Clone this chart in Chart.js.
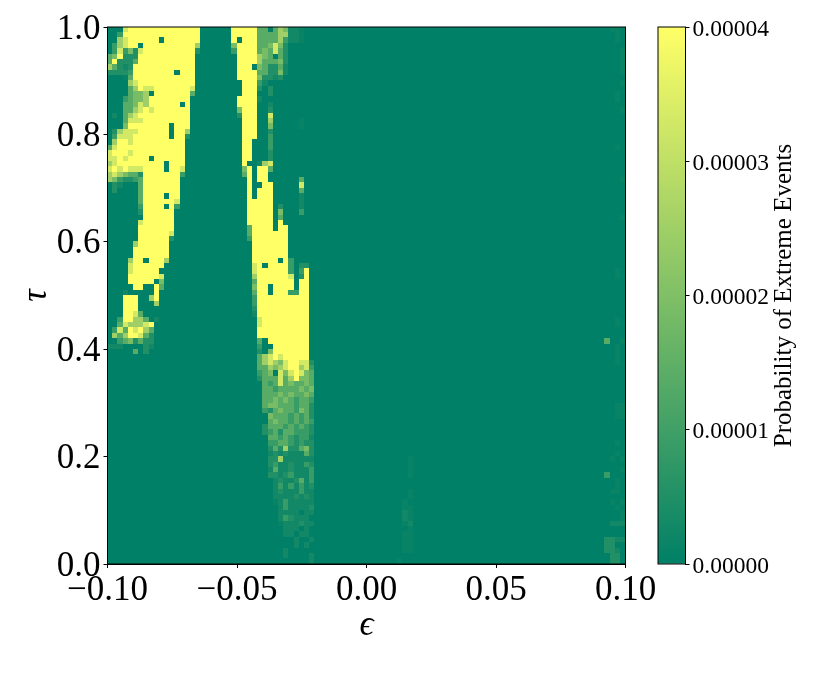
<!DOCTYPE html>
<html>
<head>
<meta charset="utf-8">
<title>Probability of Extreme Events</title>
<script src="https://cdn.jsdelivr.net/npm/chart.js@4"></script>
<style>
  html, body { margin: 0; padding: 0; background: #fff; }
  canvas { position: absolute; left: 0; top: 0; }
</style>
</head>
<body>
<canvas id="heat-chart" width="830" height="680"></canvas>
<canvas id="bar-chart" width="830" height="680"></canvas>
<script>
const epsTicks = [-0.1, -0.05, 0, 0.05, 0.1];
const tauTicks = [0, 0.2, 0.4, 0.6, 0.8, 1];
const barTicks = [0, 0.00001, 0.00002, 0.00003, 0.00004];
const barTitle = "Probability of Extreme Events";

// probability for each digit used in heatRows, in units of 1e-5
const levelValues = [0, 0.12, 0.28, 0.52, 0.88, 1.4, 1.9, 2.5, 3.3, 4];

// one string per row, top row first. "a-b=d" is a run of level d, "c:ddd" is literal levels from column c
const heatRows = [
  "3:8 4-17=9 24-28=9 29:550576221 97:1 98:1",
  "2:4 3:9 4-17=9 24-28=9 29:555577221 98:1",
  "2:7 3:8 4-17=9 10:0 24-28=9 25:0 29:555574221 98:1",
  "1:4 2:7 3:8 4-16=9 17:7 6:0 24:6 25-28=9 29:556863",
  "1:4 2:8 3:4 4:6 5:3 6:8 7-16=9 17:3 24:4 25-28=9 29:565853 99:1",
  "0:5 1:6 2:9 3:3 4:3 5:3 6-16=9 25-28=9 29:765053 99:1",
  "0:5 1:9 2:3 3:3 4:3 5:5 6-16=9 25-28=9 29:755563 99:1",
  "0:7 1:5 2:3 3:2 4:3 5-16=9 25-28=9 28:0 29:653352 99:1",
  "0:3 1:3 2:3 3:3 4:4 5-16=9 13:0 25-28=9 29:553362 99:1",
  "3:1 4:5 5-16=9 25-28=9 29:63323",
  "4:78 6-16=9 26-28=9 29:4 30:2 99:1",
  "4:5 5:7 6:9 7:88 9-15=9 16:8 26-28=9 29:3 31:3",
  "4:5 5:6 6:6 7:7 8:0 9-15=9 16:5 26-28=9 31:3 98:1",
  "3:4 4:5 5:6 6:6 7:7 8-15=9 25-28=9 29:2 98:1",
  "3:5 4:5 5:6 6:8 7:7 8-15=9 14:0 25-28=9 31:2",
  "3:5 4:5 5:7 6:8 7:9 8:8 9-15=9 25:6 26-28=9 31:3 99:1",
  "1:2 3:5 4:7 5:8 6-15=9 25:3 26-28=9 31:8",
  "3:5 4:8 5:8 6:8 7-15=9 26-28=9 31:7 37:1",
  "3:6 4-15=9 12:0 26-28=9 31:6 37:1",
  "1:3 2:7 3:8 4:8 5:8 6-14=9 12:0 15:7 26-28=9 31:3",
  "1:4 2:8 3:8 4:8 5-14=9 12:0 15:3 26-28=9 31:4",
  "1:7 2:9 3:9 4:8 5-14=9 26-27=9 31:4",
  "0:5 1:8 2-14=9 26-27=9 31:4 98:1",
  "0:8 1-14=9 4:8 26-27=9 31:3",
  "0:8 1:8 2:9 3:8 4-14=9 8:0 26-27=9 31:3",
  "0:7 1:8 2-14=9 11:0 26:9 29:2 30:7 31:8",
  "0:8 1:9 2:8 3:9 4:8 5:8 6:8 7-13=9 11:0 14:8 26:6 27:9 29-30=9 31:5",
  "0:7 1:8 2:7 3:6 4:5 5:5 6:3 7-13=9 14:4 26:5 27:9 29-30=9",
  "0:7 1:6 2:4 3:3 4:3 5:4 6:5 7-13=9 27:9 29-30=9 37:5 99:1",
  "1:3 2:2 6:5 7-13=9 27:9 30-31=9 37:8",
  "1:3 6:5 7-13=9 27:9 29-31=9 37:5",
  "6:5 7-13=9 11:0 27:9 29-31=9 37:2",
  "6:5 7-12=9 13:8 27-31=9 37:2",
  "6:4 7-12=9 11:0 13:4 27-31=9 33:3 37:2",
  "6:3 7-12=9 27-31=9 33:6 37:4",
  "7-12=9 27-31=9 33:5 99:1",
  "6:8 7-12=9 27-31=9 33:9",
  "6-12=9 27:5 28-31=9 33-34=9",
  "6-11=9 12:8 27:5 28-34=9",
  "6-11=9 12:3 27:4 28-34=9",
  "5:7 6-11=9 28-34=9",
  "5-11=9 28-34=9",
  "5-11=9 28-34=9",
  "4:7 5-10=9 7:0 11:7 28-34=9 33:0 35:4",
  "4:8 5-10=9 28:8 29-34=9 30:0 35:4 37:3 38:3",
  "4:8 5-9=9 28:8 29-34=9 35:4 37:4 38:9 98:1",
  "4-9=9 10:8 28:7 29-34=9 35:8 37:3 38:9 98:1",
  "4-8=9 10:6 28:5 29-35=9 37-38=9",
  "5-6=9 9:9 10:5 28:6 29-35=9 31:0 37-38=9",
  "3:2 9:9 28:5 29-34=9 31:0 35:4 36:4 37-38=9",
  "3-5=9 8:7 9:9 28:4 29-38=9",
  "3-5=9 9:7 28:4 29-38=9",
  "3-5=9 28:3 29-38=9",
  "3-4=9 5:8 6:5 28:2 29-38=9",
  "2:4 3-4=9 5:7 6:7 7:5 9:2 29:8 30-38=9 98:1",
  "2:5 3:8 4:7 5:7 6:7 7:8 8:9 29:8 30-38=9 98:1",
  "1:4 2:8 3:5 4:9 5:8 6:9 7:7 8:5 29-38=9",
  "1:7 2:5 3:7 4-5=9 6:8 7:5 8:3 29-38=9",
  "2:4 3:5 4:6 5:3 6:5 7:3 8:3 29:5 30:0 31-38=9 96:5 99:1",
  "0:222 7:3 8:2 29:4 30:0 31:0 32-38=9 98:1",
  "5:5 7:3 29:3 30:0 31:6 32-38=9 98:1",
  "29:5 30:7 31:8 32:9 33:8 34-38=9 98:1",
  "29:5 30:7 31:8 32:7 33:6 34:8 35-36=9 37:8 38:8 39:3 98:1",
  "29:5 30:5 31:7 32:6 33:7 34:8 35-36=9 37:7 38:8 39:4",
  "29:4 30:5 31:6 32:0 33:8 34:6 35:8 36:9 37:8 38:6 39:5",
  "29:3 30:5 31:5 32:5 33:8 34:5 35:7 36:9 37:6 38:6 39:5",
  "30:5 31:4 32:5 33:8 34:5 35:6 36:5 37:5 38:6 39:5",
  "30:5 31:5 32:4 33:5 34:5 35:5 36:5 37:6 38:5 39:6",
  "30:5 31:5 32:5 33:6 34:5 35:6 36:5 37:5 38:6 39:5",
  "30:5 31:5 32:6 33:5 34:6 35:5 36:4 37:5 38:5 39:4",
  "30:5 31:6 32:6 33:5 34:5 35:5 36:4 37:5 38:5 39:3 98:1 99:1",
  "30:4 31:3 32:5 33:6 34:5 35:5 36:4 37:6 38:5 39:3 98:1 99:1",
  "31:6 32:5 33:5 34:5 35:4 36:5 37:4 38:5 39:3 98:1 99:1",
  "31:5 32:6 33:5 34:5 35:4 36:5 37:4 38:5 39:4",
  "30:3 31:5 32:5 33:5 34:4 35:5 36:4 37:5 38:4 39:3",
  "30:3 31:4 32:5 33:3 34:5 35:5 36:4 37:4 38:4 39:3",
  "31:5 32:5 33:4 34:5 35:4 36:3 37:4 38:4 39:2",
  "31:4 32:4 33:5 34:5 35:4 36:3 37:4 38:3 39:3 98:1",
  "31:3 32:5 33:3 34:7 35:3 36:3 37:5 38:6 39:3",
  "31:2 32:3 33:2 34:3 35:2 36:2 37:2 38:5 39:3 98:1",
  "31:3 32:3 33:7 34:2 35:2 36:2 37:2 38:2 39:2 58:1 97:1 99:1",
  "31:3 32:4 33:2 34:2 35:3 36:2 37:2 38:4 39:3 58:1",
  "31:2 32:5 33:2 34:2 35:3 36:2 37:2 38:2 39:4 58:1 99:1",
  "31:3 32:3 33:2 34:3 35:4 36:2 37:2 38:2 39:4 58:1 96:4",
  "32:2 33:3 34:2 35:2 36:3 37:5 38:2 39:4 98:1",
  "32:2 33:4 34:2 35:4 36:2 37:4 38:2 39:3 98:1",
  "32:2 33:3 34:2 35:2 36:2 37:4 38:2 39:2 58:1 97:1 98:1",
  "32:2 33:2 34:2 35:2 36:3 37:2 38:3 39:2 58:1",
  "32:1 33:2 34:4 35:2 36:2 37:2 38:2 39:2 57:1 97:1 99:1",
  "33:2 34:4 35:2 36:2 37:2 38:2 39:3 57:1 58:1 98:1",
  "33:2 34:2 35:2 36:2 38:2 39:2 57:2 58:1 99:1",
  "33:2 34:4 35:3 36:2 37:2 38:2 57:2 58:1 99:1",
  "33:1 34:2 35:2 36:2 37:3 38:2 39:2 57:1 58:2 97:2 98:2 99:2",
  "34:2 35:2 36:2 38:2 58:1",
  "34:2 35:2 37:2 38:2 57:1 58:1",
  "36:2 39:2 57:1 58:1 96:3 97:3 98:2 99:2",
  "36:2 38:2 57:1 58:1 96:3 97:3",
  "34:2 57:1 58:1 96:3 97:3 98:2",
  "34:2 39:2 97:3 98:3",
  "39:2 56:1 97:3 98:3",
];

function parseRow(text) {
  const cells = new Array(100).fill(0);
  text.split(" ").forEach((token) => {
    if (token.includes("=")) {
      const [range, level] = token.split("=");
      const [from, to] = range.split("-").map(Number);
      for (let c = from; c <= to; c++) cells[c] = Number(level);
    } else {
      const [from, digits] = token.split(":");
      digits.split("").forEach((d, i) => {
        cells[Number(from) + i] = Number(d);
      });
    }
  });
  return cells;
}

// matplotlib "summer" colormap
function summerColor(fraction) {
  const r = Math.round(255 * fraction);
  const g = Math.round(255 * (0.5 + 0.5 * fraction));
  return `rgb(${r},${g},102)`;
}

const points = [];
const colors = [];
heatRows.forEach((text, row) => {
  parseRow(text).forEach((level, col) => {
    points.push({ x: -0.1 + (col + 0.5) * 0.002, y: 1 - (row + 0.5) * 0.01 });
    colors.push(summerColor(levelValues[level] / 4));
  });
});

const serif = "'Liberation Serif', serif";

// squares sit on whole pixels so neighbouring cells leave no antialiased seams
const snapPlugin = {
  id: "snap",
  afterDatasetsUpdate(chart) {
    chart.getDatasetMeta(0).data.forEach((pt) => {
      pt.x = Math.round(pt.x);
      pt.y = Math.round(pt.y);
    });
  },
};

// Liberation digits sit higher than the reference's, nudge the y labels down
const labelShiftPlugin = {
  id: "labelShift",
  beforeDraw(chart) {
    chart.scales.y.getLabelItems().forEach((item) => {
      if (!item.shifted) {
        item.options.translation[1] += 2.5;
        item.shifted = true;
      }
    });
  },
};

const framePlugin = {
  id: "frame",
  afterDraw(chart) {
    const { left, top, width, height } = chart.chartArea;
    const ctx = chart.ctx;
    ctx.save();
    ctx.strokeStyle = "#000";
    ctx.lineWidth = 1;
    ctx.strokeRect(left, top, width, height);
    ctx.restore();
  },
};

const barTitlePlugin = {
  id: "barTitle",
  afterDraw(chart) {
    const ctx = chart.ctx;
    ctx.save();
    ctx.translate(784, 295.5);
    ctx.rotate(-Math.PI / 2);
    ctx.font = `25px ${serif}`;
    ctx.fillStyle = "#000";
    ctx.textAlign = "center";
    ctx.textBaseline = "middle";
    ctx.fillText(barTitle, 0, 0);
    ctx.restore();
  },
};

new Chart(document.getElementById("heat-chart"), {
  type: "scatter",
  data: {
    datasets: [
      {
        data: points,
        pointStyle: "rect",
        pointRadius: 4.2426,
        pointHoverRadius: 4.2426,
        pointBorderWidth: 0,
        pointBackgroundColor: colors,
        clip: 0,
      },
    ],
  },
  options: {
    responsive: false,
    animation: false,
    events: [],
    layout: { padding: { left: 0, top: 27, right: 204.5, bottom: 0 } },
    plugins: { legend: { display: false }, tooltip: { enabled: false } },
    scales: {
      x: {
        type: "linear",
        min: -0.1,
        max: 0.1,
        afterBuildTicks: (axis) => {
          axis.ticks = epsTicks.map((v) => ({ value: v }));
        },
        afterFit: (axis) => {
          axis.height = 116;
        },
        border: { color: "#000" },
        grid: { drawOnChartArea: false, tickLength: 4, tickColor: "#000" },
        ticks: {
          autoSkip: false,
          maxRotation: 0,
          padding: 2,
          color: "#000",
          font: { family: serif, size: 35 },
          callback: (v) => v.toFixed(2).replace("-", "\u2212"),
        },
        title: {
          display: true,
          text: "\u03f5",
          color: "#000",
          font: { family: serif, size: 35, style: "italic" },
          padding: { top: 0, bottom: 33 },
        },
      },
      y: {
        type: "linear",
        min: 0,
        max: 1,
        afterBuildTicks: (axis) => {
          axis.ticks = tauTicks.map((v) => ({ value: v }));
        },
        afterFit: (axis) => {
          axis.width = 107.5;
        },
        border: { color: "#000" },
        grid: { drawOnChartArea: false, tickLength: 4, tickColor: "#000" },
        ticks: {
          autoSkip: false,
          padding: 3,
          color: "#000",
          font: { family: serif, size: 35 },
          callback: (v) => v.toFixed(1),
        },
        title: {
          display: true,
          text: "\u03c4",
          color: "#000",
          font: { family: serif, size: 35, style: "italic" },
          padding: { top: 16, bottom: 0 },
        },
      },
    },
  },
  plugins: [snapPlugin, labelShiftPlugin, framePlugin],
});

new Chart(document.getElementById("bar-chart"), {
  type: "bar",
  data: {
    labels: [""],
    datasets: [
      {
        data: [[barTicks[0], barTicks[barTicks.length - 1]]],
        barPercentage: 1,
        categoryPercentage: 1,
        backgroundColor: (context) => {
          const area = context.chart.chartArea;
          if (!area) return summerColor(0);
          const g = context.chart.ctx.createLinearGradient(0, area.bottom, 0, area.top);
          g.addColorStop(0, summerColor(0));
          g.addColorStop(1, summerColor(1));
          return g;
        },
      },
    ],
  },
  options: {
    responsive: false,
    animation: false,
    events: [],
    layout: { padding: { left: 658, top: 27, right: 0, bottom: 116 } },
    plugins: { legend: { display: false }, tooltip: { enabled: false } },
    scales: {
      x: { display: false },
      y: {
        position: "right",
        min: 0,
        max: 0.00004,
        afterBuildTicks: (axis) => {
          axis.ticks = barTicks.map((v) => ({ value: v }));
        },
        afterFit: (axis) => {
          axis.width = 144.5;
        },
        border: { color: "#000" },
        grid: { drawOnChartArea: false, tickLength: 4, tickColor: "#000" },
        ticks: {
          autoSkip: false,
          padding: 3,
          color: "#000",
          font: { family: serif, size: 23.5 },
          callback: (v) => v.toFixed(5),
        },
      },
    },
  },
  plugins: [labelShiftPlugin, framePlugin, barTitlePlugin],
});
</script>
</body>
</html>
